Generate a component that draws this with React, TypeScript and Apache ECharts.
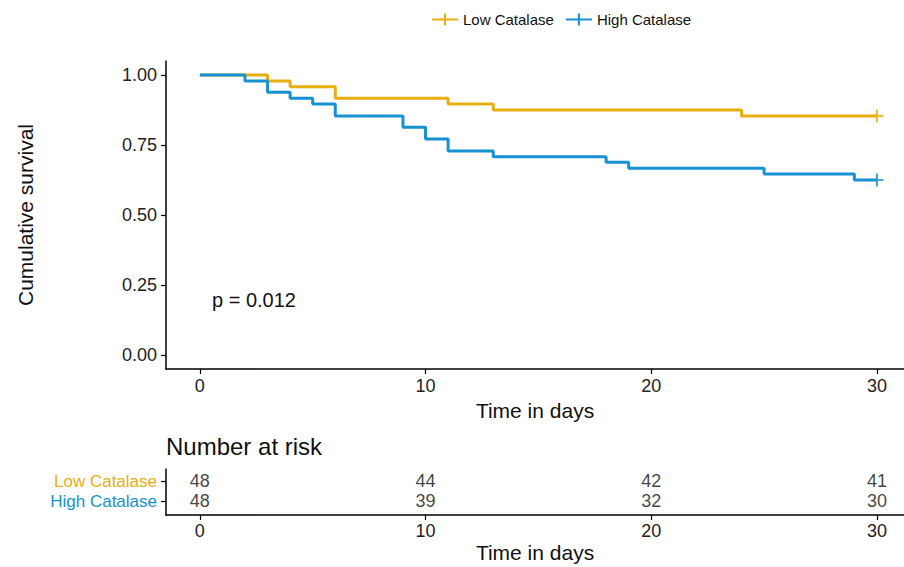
import React, { useEffect, useRef } from "react";
import * as echarts from "echarts";

// Kaplan-Meier step points (time in days, cumulative survival)
const lowTimes = [0, 3, 4, 6, 11, 13, 24, 30];
const lowSurvival = [1.0, 0.979, 0.958, 0.917, 0.896, 0.875, 0.854, 0.854];
const highTimes = [0, 2, 3, 4, 5, 6, 9, 10, 11, 13, 18, 19, 25, 29, 30];
const highSurvival = [1.0, 0.979, 0.938, 0.917, 0.896, 0.854, 0.813, 0.771, 0.729, 0.708, 0.688, 0.667, 0.646, 0.625, 0.625];

// Number at risk table
const riskTimes = [0, 10, 20, 30];
const lowAtRisk = [48, 44, 42, 41];
const highAtRisk = [48, 39, 32, 30];

const xTicks = [0, 10, 20, 30];
const yTicks = [0, 0.25, 0.5, 0.75, 1.0];
const groupNames = ["Low Catalase", "High Catalase"];
const pValueText = "p = 0.012";

const COLORS = ["#E7AE12", "#1791D1"];
const FONT = "Liberation Sans, Arial, Helvetica, sans-serif";
const PLUS = "path://M-1,-6 H1 V-1 H6 V1 H1 V6 H-1 V1 H-6 V-1 H-1 Z";
const LEGEND_ICON = "path://M0,5 H26 V7 H0 Z M12,0 H14 V12 H12 Z";

export default function App() {
  const ref = useRef<HTMLDivElement>(null);

  useEffect(() => {
    document.body.style.margin = "0";
    const chart = echarts.init(ref.current!, null, { renderer: "svg" });

    const lowData = lowTimes.map((t, i) => [t, lowSurvival[i]]);
    const highData = highTimes.map((t, i) => [t, highSurvival[i]]);
    const lowLast = lowData[lowData.length - 1];
    const highLast = highData[highData.length - 1];

    const axisLine = { show: true, onZero: false, lineStyle: { color: "#000", width: 1.5 } };
    const axisTick = (vals: number[]) => ({
      show: true,
      length: 5,
      lineStyle: { color: "#000", width: 1.2 },
      customValues: vals,
    });

    const riskLabel = {
      show: true,
      position: "inside",
      formatter: (p: any) => String(p.value[2]),
      fontSize: 18,
      color: "#111",
      fontFamily: FONT,
    };

    const option: any = {
      animation: false,
      backgroundColor: "#fff",
      textStyle: { fontFamily: FONT },
      legend: {
        left: 432,
        top: 12,
        padding: 0,
        itemWidth: 26,
        itemHeight: 12,
        itemGap: 12,
        data: groupNames.map((n) => ({ name: n, icon: LEGEND_ICON })),
        textStyle: { fontSize: 15, color: "#111", fontFamily: FONT },
      },
      grid: [
        { left: 166, right: 0, top: 61, height: 308 },
        { left: 166, right: 0, top: 469, height: 46 },
      ],
      xAxis: [
        {
          gridIndex: 0,
          type: "value",
          min: -1.5,
          max: 31.2,
          splitLine: { show: false },
          axisLine,
          axisTick: axisTick(xTicks),
          axisLabel: {
            customValues: xTicks,
            fontSize: 18,
            color: "#222",
            margin: 8,
            fontFamily: FONT,
          },
          name: "Time in days",
          nameLocation: "middle",
          nameGap: 28,
          nameTextStyle: { fontSize: 21, color: "#111", fontFamily: FONT },
        },
        {
          gridIndex: 1,
          type: "value",
          min: -1.5,
          max: 31.2,
          splitLine: { show: false },
          axisLine,
          axisTick: axisTick(xTicks),
          axisLabel: {
            customValues: xTicks,
            fontSize: 18,
            color: "#222",
            margin: 7,
            fontFamily: FONT,
          },
          name: "Time in days",
          nameLocation: "middle",
          nameGap: 27,
          nameTextStyle: { fontSize: 21, color: "#111", fontFamily: FONT },
        },
      ],
      yAxis: [
        {
          gridIndex: 0,
          type: "value",
          min: -0.05,
          max: 1.05,
          splitLine: { show: false },
          axisLine,
          axisTick: axisTick(yTicks),
          axisLabel: {
            customValues: yTicks,
            fontSize: 18,
            color: "#222",
            margin: 9,
            fontFamily: FONT,
            formatter: (v: any) => Number(v).toFixed(2),
          },
          name: "Cumulative survival",
          nameLocation: "middle",
          nameGap: 130,
          nameTextStyle: { fontSize: 21, color: "#111", fontFamily: FONT },
        },
        {
          gridIndex: 1,
          type: "value",
          min: -0.7,
          max: 1.6,
          splitLine: { show: false },
          axisLine,
          axisTick: axisTick([0, 1]),
          axisLabel: {
            customValues: [0, 1],
            fontSize: 17,
            margin: 9,
            fontFamily: FONT,
            formatter: (v: any) => (Number(v) === 1 ? groupNames[0] : groupNames[1]),
            color: (v: any) => (Number(v) === 1 ? COLORS[0] : COLORS[1]),
          },
        },
      ],
      graphic: [
        {
          type: "text",
          x: 212,
          y: 300,
          style: {
            text: pValueText,
            fontSize: 20,
            fill: "#111",
            fontFamily: FONT,
            verticalAlign: "middle",
          },
        },
        {
          type: "text",
          x: 166,
          y: 446,
          style: {
            text: "Number at risk",
            fontSize: 24,
            fill: "#111",
            fontFamily: FONT,
            verticalAlign: "middle",
          },
        },
      ],
      series: [
        {
          name: groupNames[0],
          type: "line",
          step: "end",
          xAxisIndex: 0,
          yAxisIndex: 0,
          data: lowData,
          symbol: "none",
          lineStyle: { color: COLORS[0], width: 3 },
          itemStyle: { color: COLORS[0] },
          z: 3,
        },
        {
          name: groupNames[1],
          type: "line",
          step: "end",
          xAxisIndex: 0,
          yAxisIndex: 0,
          data: highData,
          symbol: "none",
          lineStyle: { color: COLORS[1], width: 3 },
          itemStyle: { color: COLORS[1] },
          z: 3,
        },
        {
          name: "low-censor",
          type: "scatter",
          xAxisIndex: 0,
          yAxisIndex: 0,
          data: [lowLast],
          symbol: PLUS,
          symbolSize: 13,
          itemStyle: { color: COLORS[0] },
          z: 4,
        },
        {
          name: "high-censor",
          type: "scatter",
          xAxisIndex: 0,
          yAxisIndex: 0,
          data: [highLast],
          symbol: PLUS,
          symbolSize: 13,
          itemStyle: { color: COLORS[1] },
          z: 4,
        },
        {
          name: "risk-low",
          type: "scatter",
          xAxisIndex: 1,
          yAxisIndex: 1,
          data: riskTimes.map((t, i) => [t, 1, lowAtRisk[i]]),
          symbolSize: 0.1,
          itemStyle: { color: "transparent" },
          label: riskLabel,
        },
        {
          name: "risk-high",
          type: "scatter",
          xAxisIndex: 1,
          yAxisIndex: 1,
          data: riskTimes.map((t, i) => [t, 0, highAtRisk[i]]),
          symbolSize: 0.1,
          itemStyle: { color: "transparent" },
          label: riskLabel,
        },
      ],
    };

    chart.setOption(option);
    return () => chart.dispose();
  }, []);

  return <div ref={ref} style={{ width: 904, height: 567 }} />;
}
